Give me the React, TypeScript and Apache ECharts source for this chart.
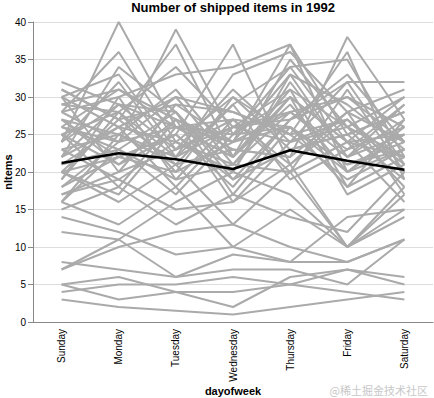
import React, { useEffect, useRef } from "react";
import * as echarts from "echarts";

const days = ["Sunday", "Monday", "Tuesday", "Wednesday", "Thursday", "Friday", "Saturday"];

const yTicks = { min: 0, max: 40, interval: 5 };

// weekly series (Sun..Sat)
const lowWeeks: number[][] = [
  [3, 2, 1.5, 1, 2, 3, 4],
  [5, 6, 4, 2, 6, 7, 6],
  [5, 3, 4, 4, 5, 4, 3],
  [4, 5, 5, 6, 5, 7, 5],
  [8, 7, 6, 7, 7, 5, 11],
  [7, 10, 12, 13, 10, 8, 11],
  [12, 11, 6, 9, 8, 8, 11],
  [14, 12, 9, 10, 15, 10, 18],
  [16, 13, 18, 10, 8, 14, 15],
  [7, 11, 16, 20, 17, 10, 15],
];

const midWeeks: number[][] = [
  [17, 19, 15, 16, 21, 10, 17],
  [20, 16, 21, 13, 20, 10, 14],
  [15, 18, 13, 17, 14, 12, 20],
];

const highWeeks: number[][] = [
  [24, 40, 26, 22, 30, 24, 22],
  [28, 36, 24, 30, 25, 27, 20],
  [22, 34, 28, 20, 33, 22, 25],
  [30, 33, 23, 26, 28, 30, 24],
  [26, 24, 39, 25, 26, 21, 23],
  [20, 27, 37, 22, 35, 26, 30],
  [25, 28, 34, 26, 24, 32, 21],
  [19, 30, 33, 34, 37, 25, 28],
  [27, 22, 25, 37, 21, 28, 24],
  [32, 29, 26, 24, 37, 20, 26],
  [23, 25, 22, 33, 36, 28, 31],
  [29, 31, 27, 23, 22, 38, 27],
  [21, 26, 30, 28, 25, 36, 19],
  [31, 27, 21, 29, 34, 35, 22],
  [26, 23, 28, 19, 27, 32, 32],
  [18, 24, 26, 25, 30, 24, 30],
  [28, 30, 19, 27, 26, 18, 27],
  [25, 21, 27, 24, 33, 29, 23],
  [30, 26, 24, 21, 28, 23, 29],
  [22, 29, 23, 31, 24, 27, 21],
  [27, 25, 31, 22, 29, 20, 25],
  [24, 32, 22, 26, 31, 26, 18],
  [20, 22, 25, 18, 27, 30, 26],
  [29, 28, 20, 30, 23, 25, 28],
  [17, 20, 29, 24, 26, 21, 24],
  [26, 31, 26, 27, 20, 31, 20],
  [23, 19, 24, 20, 32, 22, 27],
  [31, 27, 29, 28, 25, 19, 23],
  [16, 25, 21, 23, 22, 28, 17],
  [21, 23, 17, 25, 34, 24, 25],
  [25, 18, 27, 16, 24, 26, 22],
  [19, 28, 22, 29, 19, 23, 26],
  [28, 24, 30, 21, 30, 17, 21],
  [22, 26, 18, 26, 27, 33, 24],
  [27, 21, 25, 19, 23, 25, 19],
  [18, 22, 20, 24, 28, 22, 29],
  [24, 29, 28, 17, 26, 20, 23],
  [30, 20, 23, 27, 21, 27, 20],
  [20, 17, 26, 22, 31, 18, 22],
  [16, 23, 19, 21, 20, 24, 16],
];

const meanLine = [21.2, 22.5, 21.7, 20.4, 22.9, 21.5, 20.3];

const FONT = "'Liberation Sans', Arial, Helvetica, sans-serif";

export default function App() {
  const ref = useRef<HTMLDivElement>(null);
  useEffect(() => {
    if (!ref.current) return;
    const chart = echarts.init(ref.current, null, { renderer: "svg" });
    const weeks = [...highWeeks, ...midWeeks, ...lowWeeks];
    const series: any[] = weeks.map((w, i) => ({
      type: "line",
      name: "week" + i,
      data: w,
      symbol: "none",
      silent: true,
      lineStyle: { color: "#aaaaaa", width: 2 },
      z: 2,
    }));
    series.push({
      type: "line",
      name: "mean",
      data: meanLine,
      symbol: "none",
      silent: true,
      lineStyle: { color: "#000000", width: 2.5 },
      z: 5,
    });
    chart.setOption({
      animation: false,
      textStyle: { fontFamily: FONT },
      grid: {
        left: 33,
        right: 1,
        top: 22,
        bottom: 76,
        containLabel: false,
        outerBoundsMode: "none",
      },
      xAxis: {
        type: "category",
        data: days,
        boundaryGap: true,
        name: "dayofweek",
        nameLocation: "middle",
        nameGap: 63,
        nameMoveOverlap: false,
        nameTextStyle: { fontSize: 11, fontWeight: "bold", color: "#000", fontFamily: FONT },
        axisLine: { lineStyle: { color: "#888", width: 1 } },
        axisTick: { alignWithLabel: true, length: 5, lineStyle: { color: "#888" } },
        axisLabel: { rotate: 90, fontSize: 10, color: "#000", margin: 7, fontFamily: FONT },
        splitLine: { show: false },
      },
      yAxis: {
        type: "value",
        min: yTicks.min,
        max: yTicks.max,
        interval: yTicks.interval,
        name: "nItems",
        nameLocation: "middle",
        nameGap: 20,
        nameMoveOverlap: false,
        nameTextStyle: { fontSize: 11, fontWeight: "bold", color: "#000", fontFamily: FONT },
        axisLine: { show: true, lineStyle: { color: "#888", width: 1 } },
        axisTick: { show: true, length: 5, lineStyle: { color: "#888" } },
        axisLabel: { fontSize: 10, color: "#000", margin: 7, fontFamily: FONT },
        splitLine: { show: true, lineStyle: { color: "#dddddd", width: 1 } },
      },
      graphic: [
        {
          type: "text",
          x: 233,
          y: 1,
          style: {
            text: "Number of shipped items in 1992",
            textAlign: "center",
            textVerticalAlign: "top",
            fill: "#000",
            fontSize: 13,
            fontWeight: "bold",
            fontFamily: FONT,
          },
        },
        {
          type: "text",
          right: 6,
          top: 384,
          style: {
            text: "@稀土掘金技术社区",
            fill: "#c8c8c8",
            fontSize: 11,
            fontFamily: "'Noto Sans CJK SC', sans-serif",
          },
        },
      ],
      series,
    });
    return () => chart.dispose();
  }, []);
  return (
    <div
      ref={ref}
      style={{ position: "fixed", left: 0, top: 0, width: 434, height: 398, background: "#fff" }}
    />
  );
}
